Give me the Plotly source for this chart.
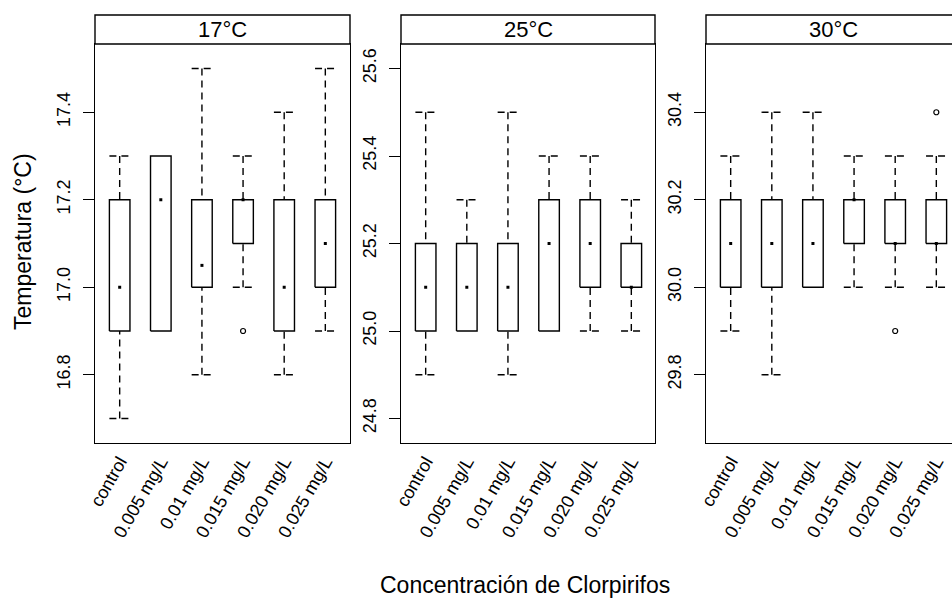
import plotly.graph_objects as go

# ---------------- data ----------------
categories = ["control", "0.005 mg/L", "0.01 mg/L", "0.015 mg/L", "0.020 mg/L", "0.025 mg/L"]
panels = ["17°C", "25°C", "30°C"]

lower_17 = [16.7, 16.9, 16.8, 17.0, 16.8, 16.9]
q1_17 = [16.9, 16.9, 17.0, 17.1, 16.9, 17.0]
median_17 = [17.0, 17.2, 17.05, 17.2, 17.0, 17.1]
q3_17 = [17.2, 17.3, 17.2, 17.2, 17.2, 17.2]
upper_17 = [17.3, 17.3, 17.5, 17.3, 17.4, 17.5]
outliers_17 = [[], [], [], [16.9], [], []]

lower_25 = [24.9, 25.0, 24.9, 25.0, 25.0, 25.0]
q1_25 = [25.0, 25.0, 25.0, 25.0, 25.1, 25.1]
median_25 = [25.1, 25.1, 25.1, 25.2, 25.2, 25.1]
q3_25 = [25.2, 25.2, 25.2, 25.3, 25.3, 25.2]
upper_25 = [25.5, 25.3, 25.5, 25.4, 25.4, 25.3]
outliers_25 = [[], [], [], [], [], []]

lower_30 = [29.9, 29.8, 30.0, 30.0, 30.0, 30.0]
q1_30 = [30.0, 30.0, 30.0, 30.1, 30.1, 30.1]
median_30 = [30.1, 30.1, 30.1, 30.2, 30.1, 30.1]
q3_30 = [30.2, 30.2, 30.2, 30.2, 30.2, 30.2]
upper_30 = [30.3, 30.4, 30.4, 30.3, 30.3, 30.3]
outliers_30 = [[], [], [], [], [29.9], [30.4]]

stats = [
    (lower_17, q1_17, median_17, q3_17, upper_17, outliers_17),
    (lower_25, q1_25, median_25, q3_25, upper_25, outliers_25),
    (lower_30, q1_30, median_30, q3_30, upper_30, outliers_30),
]

# ---------------- style / layout ----------------
W, H = 952, 599
FONT = "Liberation Sans, Arial, sans-serif"
INK = "#000000"
LW = 1.4
HALF = 0.25          # half box width in category units
panel_px = [(95, 350), (401, 655), (706, 960)]
plot_top, plot_bot = 44, 443
strip_top = 15
px_per_unit = (350 - 95) / 6.2

# common y half-range (lattice "sliced" scales, 7% padding)
spans = []
for lo, q1, md, q3, hi, out in stats:
    allv = lo + hi + [v for o in out for v in o]
    spans.append(max(allv) - min(allv))
half_range = max(spans) * 1.14 / 2

fig = go.Figure()

for p, (lo, q1, md, q3, hi, out) in enumerate(stats):
    xa = "x" if p == 0 else f"x{p+1}"
    ya = "y" if p == 0 else f"y{p+1}"
    bx, by = [], []
    wx, wy = [], []
    mx, my = [], []
    ox, oy = [], []
    for i in range(len(categories)):
        c = i + 1
        bx += [c - HALF, c + HALF, c + HALF, c - HALF, c - HALF, None]
        by += [q1[i], q1[i], q3[i], q3[i], q1[i], None]
        if hi[i] > q3[i]:
            wx += [c - HALF, c + HALF, None, c, c, None]
            wy += [hi[i], hi[i], None, hi[i], q3[i], None]
        if lo[i] < q1[i]:
            wx += [c - HALF, c + HALF, None, c, c, None]
            wy += [lo[i], lo[i], None, lo[i], q1[i], None]
        mx.append(c)
        my.append(md[i])
        for v in out[i]:
            ox.append(c)
            oy.append(v)
    fig.add_trace(go.Scatter(x=wx, y=wy, mode="lines", xaxis=xa, yaxis=ya,
                             line=dict(color=INK, width=LW, dash="7px,5px"),
                             hoverinfo="skip", showlegend=False))
    fig.add_trace(go.Scatter(x=bx, y=by, mode="lines", xaxis=xa, yaxis=ya,
                             line=dict(color=INK, width=LW),
                             hoverinfo="skip", showlegend=False))
    fig.add_trace(go.Scatter(x=mx, y=my, mode="markers", xaxis=xa, yaxis=ya,
                             marker=dict(symbol="square", size=3, color=INK, line=dict(width=0)),
                             showlegend=False))
    fig.add_trace(go.Scatter(x=ox, y=oy, mode="markers", xaxis=xa, yaxis=ya,
                             marker=dict(symbol="circle-open", size=5, color=INK, line=dict(width=1.2)),
                             showlegend=False))

    allv = lo + hi + [v for o in out for v in o]
    center = (max(allv) + min(allv)) / 2
    x0, x1 = panel_px[p]
    x1c = min(x1, W)
    xr = [0.4, 0.4 + (x1c - x0) / px_per_unit]
    sfx = "" if p == 0 else str(p + 1)
    fig.layout["xaxis" + sfx] = dict(
        domain=[x0 / W, x1c / W], range=xr, anchor=ya,
        tickmode="array", tickvals=list(range(1, len(categories) + 1)), ticktext=categories,
        tickangle=-60, ticks="", showgrid=False, zeroline=False,
        showline=True, mirror=True, linecolor=INK, linewidth=LW,
        tickfont=dict(family=FONT, size=18, color=INK), automargin=False)
    fig.layout["yaxis" + sfx] = dict(
        domain=[(H - plot_bot) / H, (H - plot_top) / H],
        range=[center - half_range, center + half_range], anchor=xa,
        tick0=0, dtick=0.2, tickformat=".1f", tickangle=-90,
        ticks="outside", ticklen=11, tickcolor=INK, tickwidth=LW,
        ticklabelstandoff=6,
        showgrid=False, zeroline=False,
        showline=True, mirror=(p < 2), linecolor=INK, linewidth=LW,
        tickfont=dict(family=FONT, size=18, color=INK), automargin=False)

    # strip
    fig.add_shape(type="rect", xref="paper", yref="paper",
                  x0=x0 / W, x1=(x1 if x1 <= W else W + 5) / W,
                  y0=(H - plot_top) / H, y1=(H - strip_top) / H,
                  line=dict(color=INK, width=LW), fillcolor="white", layer="above")
    fig.add_annotation(x=(x0 + x1) / 2 / W, y=(H - (plot_top + strip_top) / 2) / H,
                       xref="paper", yref="paper", text=panels[p], showarrow=False,
                       xanchor="center", yanchor="middle",
                       font=dict(family=FONT, size=22, color=INK))

fig.add_annotation(x=525 / W, y=(H - 585) / H, xref="paper", yref="paper",
                   text="Concentración de Clorpirifos", showarrow=False,
                   xanchor="center", yanchor="middle",
                   font=dict(family=FONT, size=23, color=INK))
fig.add_annotation(x=23 / W, y=(H - 242) / H, xref="paper", yref="paper",
                   text="Temperatura (°C)", showarrow=False, textangle=-90,
                   xanchor="center", yanchor="middle",
                   font=dict(family=FONT, size=23, color=INK))

fig.update_layout(width=W, height=H, margin=dict(l=0, r=0, t=0, b=0),
                  paper_bgcolor="white", plot_bgcolor="white", showlegend=False)

fig.write_html("out.html", config={"displayModeBar": False},
               post_script="document.body.style.margin='0';document.body.style.overflow='hidden';")
